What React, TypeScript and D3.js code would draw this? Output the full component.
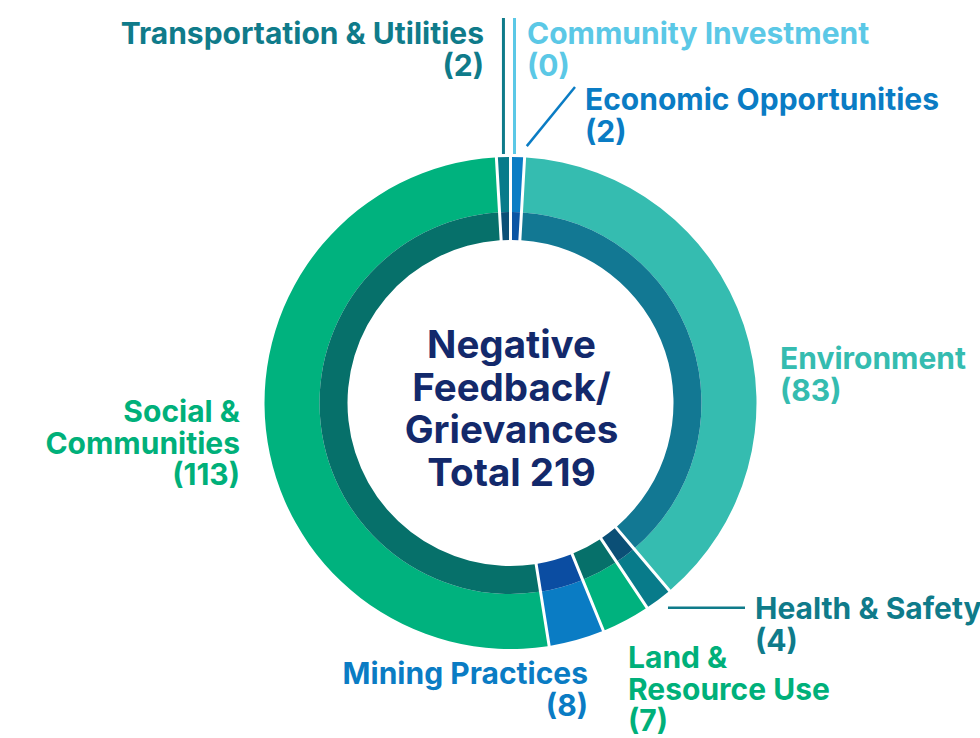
import React from "react";
import * as d3 from "d3";

const categories = [
  "Community Investment",
  "Economic Opportunities",
  "Environment",
  "Health & Safety",
  "Land & Resource Use",
  "Mining Practices",
  "Social & Communities",
  "Transportation & Utilities",
];
const values = [0, 2, 83, 4, 7, 8, 113, 2];
const labelLines = [
  ["Community Investment"],
  ["Economic Opportunities"],
  ["Environment"],
  ["Health & Safety"],
  ["Land &", "Resource Use"],
  ["Mining Practices"],
  ["Social &", "Communities"],
  ["Transportation & Utilities"],
];
const centerLines = ["Negative", "Feedback/", "Grievances"];
const totalLabel = "Total";

const outerColors = ["#5bc8e6", "#0a7cc4", "#35bcb0", "#087b8a", "#00b27e", "#0a7cc4", "#00b27e", "#087b8a"];
const innerColors = ["#3a8fb8", "#0b55a4", "#127893", "#0b4f76", "#06706a", "#0b4da2", "#06706a", "#0b4f76"];
const textColors = ["#5bc8e6", "#0a7cc4", "#35bcb0", "#0f7b8a", "#00b07a", "#0a7cc4", "#00b07a", "#0f7b8a"];

// label layout (annotation placement)
type LabelLayout = { x: number; y: number; anchor: "start" | "end"; line?: "vertical" | "diag" | "horiz" };
const labelLayout: LabelLayout[] = [
  { x: 527, y: 44, anchor: "start", line: "vertical" },
  { x: 585, y: 110, anchor: "start", line: "diag" },
  { x: 780, y: 369, anchor: "start" },
  { x: 755, y: 619, anchor: "start", line: "horiz" },
  { x: 628, y: 668, anchor: "start" },
  { x: 588, y: 684, anchor: "end" },
  { x: 240, y: 422, anchor: "end" },
  { x: 484, y: 44, anchor: "end", line: "vertical" },
];

const W = 980;
const H = 738;
const cx = 510.5;
const cy = 403;
const R = 246;
const RMid = 191;
const RIn = 163;
const lineH = 31.5;
const FONT = "Inter, 'DejaVu Sans', sans-serif";

export default function App() {
  const total = d3.sum(values);
  const pie = d3
    .pie<number>()
    .sort(null)
    .value((d) => d)
    .startAngle(0)
    .endAngle(2 * Math.PI);
  const arcsData = pie(values);
  const pad = 3 / R;
  const outerArc = d3.arc<d3.PieArcDatum<number>>().innerRadius(RMid).outerRadius(R).padAngle(pad).padRadius(R);
  const innerArc = d3.arc<d3.PieArcDatum<number>>().innerRadius(RIn).outerRadius(RMid).padAngle(pad).padRadius(R);

  const pt = (angle: number, r: number) => [cx + r * Math.sin(angle), cy - r * Math.cos(angle)];

  const leaders = arcsData.map((a, i) => {
    const lay = labelLayout[i];
    const mid = (a.startAngle + a.endAngle) / 2;
    const col = textColors[i];
    if (lay.line === "vertical") {
      const [x] = pt(mid, R);
      const xx = i === 0 ? x + 4 : x;
      return <line key={"l" + i} x1={xx} x2={xx} y1={18} y2={cy - R - 3} stroke={col} strokeWidth={3} />;
    }
    if (lay.line === "diag") {
      const [x0, y0] = pt(mid, R + 8);
      return <line key={"l" + i} x1={x0 + 9} y1={y0 - 3} x2={lay.x - 10} y2={lay.y - 23} stroke={col} strokeWidth={2.5} />;
    }
    if (lay.line === "horiz") {
      const [x0, y0] = pt(a.endAngle, R);
      return <line key={"l" + i} x1={x0 + 21} y1={y0} x2={lay.x - 10} y2={y0} stroke={col} strokeWidth={2.5} />;
    }
    return null;
  });

  return (
    <svg
      width={W}
      height={H}
      viewBox={`0 0 ${W} ${H}`}
      style={{ position: "absolute", left: 0, top: 0, display: "block", background: "#fff" }}
    >
      <g>
        {arcsData.map((a, i) =>
          a.value > 0 ? (
            <g key={categories[i]}>
              <path d={outerArc(a) || ""} fill={outerColors[i]} transform={`translate(${cx},${cy})`} />
              <path d={innerArc(a) || ""} fill={innerColors[i]} transform={`translate(${cx},${cy})`} />
            </g>
          ) : null
        )}
      </g>
      {leaders}
      {labelLayout.map((lay, i) => {
        const lines = [...labelLines[i], `(${values[i]})`];
        return (
          <text
            key={"t" + i}
            x={lay.x}
            y={lay.y}
            textAnchor={lay.anchor}
            fill={textColors[i]}
            fontFamily={FONT}
            fontWeight={700}
            fontSize={30}
            letterSpacing={0}
          >
            {lines.map((ln, j) => (
              <tspan key={j} x={lay.x} y={lay.y + j * lineH}>
                {ln}
              </tspan>
            ))}
          </text>
        );
      })}
      <text textAnchor="middle" fill="#13296b" fontFamily={FONT} fontWeight={700} fontSize={38.5}>
        {[...centerLines, `${totalLabel} ${total}`].map((ln, j) => (
          <tspan key={j} x={cx + 1} y={358 + j * 42.5}>
            {ln}
          </tspan>
        ))}
      </text>
    </svg>
  );
}
